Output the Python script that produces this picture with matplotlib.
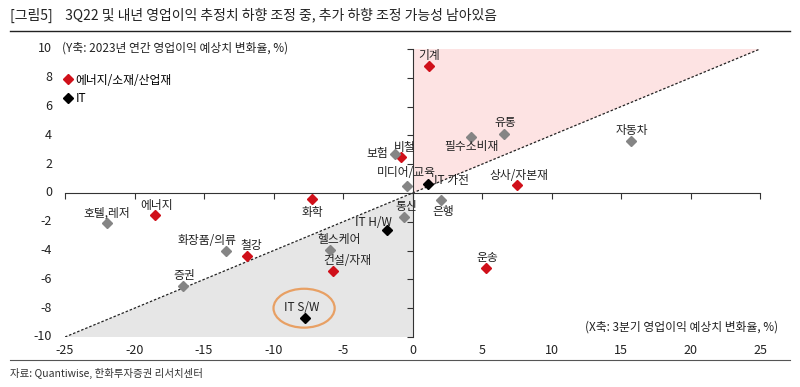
import matplotlib
matplotlib.use("Agg")
import matplotlib.pyplot as plt
from matplotlib.patches import Polygon, Ellipse
from matplotlib.lines import Line2D

plt.rcParams['font.family'] = ['Noto Sans CJK KR', 'DejaVu Sans']

# ---- data ----
names = ['기계', '유통', '필수소비재', '자동차', '비철', '보험', '미디어/교육', 'IT 가전',
         '상사/자본재', '은행', '통신', 'IT H/W', '화학', '에너지', '호텔,레저', '화장품/의류',
         '철강', '헬스케어', '건설/자재', '증권', 'IT S/W', '운송']
x_vals = [1.2, 6.6, 4.2, 15.7, -0.8, -1.25, -0.4, 1.1,
          7.55, 2.05, -0.6, -1.8, -7.2, -18.5, -22.0, -13.4,
          -11.9, -5.95, -5.7, -16.5, -7.75, 5.3]
y_vals = [8.8, 4.1, 3.9, 3.6, 2.5, 2.7, 0.5, 0.65,
          0.55, -0.5, -1.7, -2.55, -0.45, -1.55, -2.1, -4.0,
          -4.35, -3.95, -5.4, -6.45, -8.65, -5.2]
groups = ['E', 'O', 'O', 'O', 'E', 'O', 'O', 'IT',
          'E', 'O', 'O', 'IT', 'E', 'E', 'O', 'O',
          'E', 'O', 'E', 'O', 'IT', 'E']
legend_labels = ['에너지/소재/산업재', 'IT']
x_ticks = [-25, -20, -15, -10, -5, 0, 5, 10, 15, 20, 25]
y_ticks = [-10, -8, -6, -4, -2, 0, 2, 4, 6, 8, 10]

title = '[그림5]    3Q22 및 내년 영업이익 추정치 하향 조정 중, 추가 하향 조정 가능성 남아있음'
y_axis_note = '(Y축: 2023년 연간 영업이익 예상치 변화율, %)'
x_axis_note = '(X축: 3분기 영업이익 예상치 변화율, %)'
source = '자료: Quantiwise, 한화투자증권 리서치센터'

# ---- styles / label offsets (pixels) ----
colors = {'E': '#d0101a', 'O': '#858585', 'IT': '#000000'}
label_off = {
    '기계': (0, 11, 'center'), '유통': (1, 11, 'center'), '필수소비재': (1, -10, 'center'),
    '자동차': (1, 11, 'center'), '비철': (3, 10, 'center'), '보험': (-7, 1, 'right'),
    '미디어/교육': (-1, 13, 'center'), 'IT 가전': (6, 3, 'left'), '상사/자본재': (1, 10, 'center'),
    '은행': (2, -11, 'center'), '통신': (2, 11, 'center'), 'IT H/W': (-14, 7, 'center'),
    '화학': (0, -13, 'center'), '에너지': (1, 10, 'center'), '호텔,레저': (0, 10, 'center'),
    '화장품/의류': (-19, 10, 'center'), '철강': (4, 10, 'center'), '헬스케어': (9, 10, 'center'),
    '건설/자재': (14, 10, 'center'), '증권': (1, 10, 'center'), 'IT S/W': (-3, 10, 'center'),
    '운송': (1, 10, 'center'),
}

fig = plt.figure(figsize=(8, 3.87), dpi=100)
ax = fig.add_axes([65/800, 1-337/387, 695/800, 288/387])
ax.set_xlim(-25, 25)
ax.set_ylim(-10, 10)
ax.patch.set_alpha(0)

# shaded regions
ax.add_patch(Polygon([(0, 0), (0, 10), (25, 10)], closed=True, fc='#fde3e3', ec='none', zorder=0))
ax.add_patch(Polygon([(0, 0), (0, -10), (-25, -10)], closed=True, fc='#e6e6e6', ec='none', zorder=0))
ax.plot([-25, 25], [-10, 10], color='#222222', lw=0.9, ls=(0, (2, 1.5)), zorder=1)

# spines at zero
for s in ['top', 'right']:
    ax.spines[s].set_visible(False)
ax.spines['left'].set_position(('data', 0))
ax.spines['bottom'].set_position(('data', 0))
ax.spines['left'].set_color('#333333')
ax.spines['bottom'].set_color('#333333')
ax.set_xticks(x_ticks)
ax.set_yticks(y_ticks)
ax.tick_params(axis='both', direction='out', length=4, color='#333333', labelleft=False, labelbottom=False)

# tick labels at edges
for t in y_ticks:
    ax.annotate(f'{t}', xy=(0, t), xycoords=('axes fraction', 'data'), xytext=(-13, 0),
                textcoords='offset pixels', ha='right', va='center', fontsize=9, color='#222222')
for t in x_ticks:
    ax.annotate(f'{t}', xy=(t, 0), xycoords=('data', 'axes fraction'), xytext=(0, -13),
                textcoords='offset pixels', ha='center', va='center', fontsize=9, color='#222222')

# points
for n, x, y, g in zip(names, x_vals, y_vals, groups):
    ax.plot(x, y, marker='D', ms=4.8, color=colors[g], mec=colors[g], ls='none', zorder=3, clip_on=False)
    dx, dy, ha = label_off[n]
    ax.annotate(n, xy=(x, y), xytext=(dx, dy), textcoords='offset pixels',
                ha=ha, va='center', fontsize=8.5, color='#222222', zorder=4)

# highlight ellipse around IT S/W
its = names.index('IT S/W')
ax.add_patch(Ellipse((x_vals[its] - 0.05, y_vals[its] + 0.65), 4.4, 2.7, fill=False,
                     ec='#e8a064', lw=1.6, zorder=2))

# legend
h1 = Line2D([], [], marker='D', ms=4.8, color=colors['E'], ls='none')
h2 = Line2D([], [], marker='D', ms=4.8, color=colors['IT'], ls='none')
leg = ax.legend([h1, h2], legend_labels, loc='upper left', bbox_to_anchor=(-0.012, 0.935),
                frameon=False, fontsize=8.5, handletextpad=0.1, borderpad=0, labelspacing=0.45,
                handlelength=1.0)

# axis notes
fig.text(62/800, 1-48/387, y_axis_note, fontsize=8.5, ha='left', va='center', color='#222222')
fig.text(778/800, 1-327/387, x_axis_note, fontsize=8.5, ha='right', va='center', color='#222222')

# title, rules, source
fig.text(10/800, 1-15/387, title, fontsize=10, ha='left', va='center', color='#222222')
fig.add_artist(Line2D([10/800, 790/800], [1-31/387, 1-31/387], color='#222222', lw=1))
fig.add_artist(Line2D([10/800, 790/800], [1-360/387, 1-360/387], color='#555555', lw=0.8))
fig.text(10/800, 1-373/387, source, fontsize=7.5, ha='left', va='center', color='#333333')

fig.savefig('out.png', dpi=100)
